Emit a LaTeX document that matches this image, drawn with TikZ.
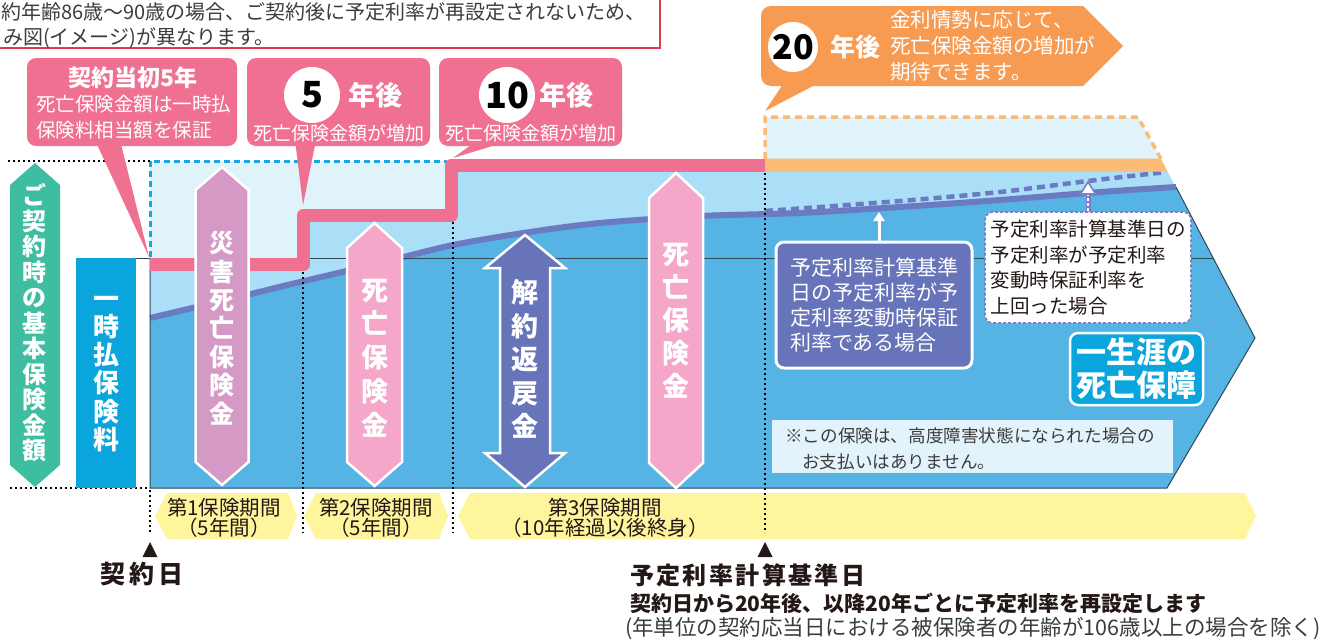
\documentclass[tikz,border=0pt]{standalone}
\usepackage{fontspec}
\setmainfont{Noto Sans CJK JP}
\usetikzlibrary{arrows.meta,calc}
\definecolor{pinkc}{HTML}{F07092}
\definecolor{lpink}{HTML}{F4A7C9}
\definecolor{mauve}{HTML}{D49AC5}
\definecolor{purp}{HTML}{6874B9}
\definecolor{greenc}{HTML}{3FBDA0}
\definecolor{bblue}{HTML}{0BA5DD}
\definecolor{mblue}{HTML}{55B4E4}
\definecolor{lblue}{HTML}{AADFF7}
\definecolor{vlight}{HTML}{E0F2FA}
\definecolor{orangec}{HTML}{F89B52}
\definecolor{lorange}{HTML}{FBBC77}
\definecolor{yel}{HTML}{FFF59D}
\definecolor{curvec}{HTML}{6B7BC1}
\definecolor{redc}{HTML}{E03C50}
\definecolor{darkt}{HTML}{231815}
\definecolor{grayt}{HTML}{3C3C3C}
\definecolor{linec}{HTML}{2F4858}
\definecolor{dpurp}{HTML}{7B80C4}
\definecolor{notec}{HTML}{E3F3FB}
\definecolor{dashblue}{HTML}{17A8E1}
\newcommand\fsz[2]{\fontsize{#1}{#2}\selectfont}
\tikzset{
  dotl/.style={black, line width=1.8, dash pattern=on 1.8pt off 3.2pt},
  wtxt/.style={text=white, inner sep=0},
  btxt/.style={text=darkt, inner sep=0},
  hexa/.style={draw=white, line width=2.5, line join=miter},
  vtxt/.style={text=white, inner sep=0, align=center},
  dig/.style={circle, fill=white, inner sep=0, minimum size=56, text=black},
  band/.style={fill=yel},
}
\begin{document}
\begin{tikzpicture}[x=1pt,y=-1pt]
\useasboundingbox (0,0) rectangle (1327,643);
\fill[white] (0,0) rectangle (1327,643);

% top note
\draw[redc, line width=1.3] (-5,-5) rectangle (660,48);
\node[anchor=west, text=grayt, inner sep=0, font=\fsz{20}{20}] (tn1) at (1,12) {約年齢86歳～90歳の場合、ご契約後に予定利率が再設定されないため、};
\node[anchor=west, text=grayt, inner sep=0, font=\fsz{20}{20}] (tn2) at (3,38) {み図(イメージ)が異なります。};

% very light regions
\fill[vlight] (150,161) -- (451.5,161) -- (451.5,215) -- (303.5,215) -- (303.5,264) -- (150,264) -- cycle;
\fill[vlight] (765,172) -- (765,117) -- (1138,117) -- (1168,172) -- cycle;
% light blue
\fill[lblue] (150,264) -- (303.5,264) -- (303.5,215) -- (451.5,215) -- (451.5,165) -- (1164,165) -- (1255,338) -- (1167,488) -- (150,488) -- cycle;
% main blue
\fill[mblue] plot[smooth] coordinates {(150,318) (230,299) (300,282) (380,263) (453,245) (530,232) (600,223) (700,216) (800,213) (900,207) (1000,200) (1100,192) (1176,187)} -- (1255,338) -- (1167,488) -- (150,488) -- cycle;
% curves
\draw[curvec, line width=4.5, dash pattern=on 8pt off 5pt] plot[smooth] coordinates {(765,211) (900,201) (1000,192) (1088,181) (1166,172)};
\draw[curvec, line width=6] plot[smooth] coordinates {(150,318) (230,299) (300,282) (380,263) (453,245) (530,232) (600,223) (700,216) (800,213) (900,207) (1000,200) (1100,192) (1176,187)};
% thin lines
\draw[linec, line width=1] (76,258) -- (1213,258);
\draw[linec, line width=1] (1176,187) -- (1255,338) -- (1167,488) -- (150,488) -- (150,258);

% dashed borders
\draw[dashblue, line width=3, dash pattern=on 6pt off 4pt] (150,257) -- (150,161) -- (447,161);
\draw[lorange, line width=3.5, dash pattern=on 7pt off 5pt] (765,159) -- (765,117) -- (1138,117) -- (1161,159);

% pink step and orange bar
\draw[pinkc, line width=13, line join=round] (150,264.5) -- (303.5,264.5) -- (303.5,215) -- (451.5,215) -- (451.5,165) -- (765,165);
\fill[lorange] (765,158.5) -- (1160.6,158.5) -- (1167.4,171.5) -- (765,171.5) -- cycle;

% bands
\fill[band] (155,516) -- (167,493) -- (288,493) -- (297,516) -- (288,539) -- (167,539) -- cycle;
\fill[band] (304,516) -- (316,493) -- (439,493) -- (448,516) -- (439,539) -- (316,539) -- cycle;
\fill[band] (458,516) -- (470,493) -- (1245,493) -- (1256,516) -- (1245,539) -- (470,539) -- cycle;
\node[btxt, align=center, font=\fsz{20.5}{20.5}] (p1) at (224,518) {第1保険期間\\（5年間）};
\node[btxt, align=center, font=\fsz{20.5}{20.5}] (p2) at (376,518) {第2保険期間\\（5年間）};
\node[btxt, align=center, font=\fsz{20.5}{20.5}] (p3) at (605,518) {第3保険期間\\（10年経過以後終身）};

% dotted lines
\draw[dotl] (8,161) -- (150,161);
\draw[dotl] (10,488) -- (150,488);
\draw[dotl] (150,490) -- (150,533);
\draw[dotl] (303,272) -- (303,533);
\draw[dotl] (453,222) -- (453,533);
\draw[dotl] (765,173) -- (765,533);

% left green hex and blue rect
\fill[greenc] (35,163) -- (60,185) -- (60,465) -- (35,487) -- (10,465) -- (10,185) -- cycle;
\node[vtxt, font=\bfseries\fsz{24}{25.5}] (g) at (35,323) {ご\\契\\約\\時\\の\\基\\本\\保\\険\\金\\額};
\fill[bblue] (76,258) rectangle (136,488);
\node[vtxt, font=\bfseries\fsz{26}{28.2}] (ip) at (106,374) {一\\時\\払\\保\\険\\料};

% hex arrows
\filldraw[hexa, fill=mauve] (222,167) -- (248.5,190) -- (248.5,462) -- (222,485) -- (195.5,462) -- (195.5,190) -- cycle;
\node[vtxt, font=\bfseries\fsz{25}{28.4}] (h1) at (222,328) {災\\害\\死\\亡\\保\\険\\金};
\filldraw[hexa, fill=lpink] (374.5,223) -- (402,248) -- (402,462) -- (374.5,486) -- (347,462) -- (347,248) -- cycle;
\node[vtxt, font=\bfseries\fsz{27}{33.8}] (h2) at (374.5,358) {死\\亡\\保\\険\\金};
\filldraw[hexa, fill=purp] (525,235) -- (565,268) -- (550,268) -- (550,453) -- (565,453) -- (525,487) -- (485,453) -- (500,453) -- (500,268) -- (485,268) -- cycle;
\node[vtxt, font=\bfseries\fsz{27}{33.4}] (h3) at (525,359) {解\\約\\返\\戻\\金};
\filldraw[hexa, fill=lpink] (676,173) -- (703,198) -- (703,463) -- (676,488) -- (649,463) -- (649,198) -- cycle;
\node[vtxt, font=\bfseries\fsz{27}{33}] (h4) at (676,321) {死\\亡\\保\\険\\金};

% right boxes
\node[draw=white, line width=3, fill=purp, rounded corners=8, minimum width=196, minimum height=126, inner sep=0, text=white, align=left, font=\fsz{21}{25.3}] (pb) at (874,305) {予定利率計算基準\\日の予定利率が予\\定利率変動時保証\\利率である場合};
\coordinate (t1) at (879,212);
\draw[white, line width=3, -{Triangle[width=11pt,length=9pt]}] (pb.north -| t1) -- (t1);
\node[draw=dpurp, dash pattern=on 3pt off 2pt, line width=1.6, fill=white, rounded corners=8, minimum width=206, minimum height=111, inner sep=0, text=darkt, align=left, font=\fsz{19.5}{25.7}] (wb) at (1088,267.5) {予定利率計算基準日の\\予定利率が予定利率\\変動時保証利率を\\上回った場合};
\coordinate (t2) at (1088,182);
\draw[dpurp, line width=5] (wb.north) -- ($(t2)+(0,10)$);
\draw[white, line width=2, dash pattern=on 3pt off 2pt] (wb.north) -- ($(t2)+(0,10)$);
\filldraw[fill=white, draw=dpurp, line width=1.6] (t2) -- ++(7.5,12) -- ++(-15,0) -- cycle;
\node[draw=white, line width=2.5, fill=bblue, rounded corners=8, minimum width=133, minimum height=72, inner sep=0, text=white, align=center, font=\bfseries\fsz{30}{33}] (ls) at (1136.5,369) {一生涯の\\死亡保障};
\fill[notec] (772,420) rectangle (1173,473);
\node[anchor=west, inner sep=0, text=grayt, align=left, font=\fsz{17.6}{26}] (nt) at (785,449) {※この保険は、高度障害状態になられた場合の\\\hspace*{17pt}お支払いはありません。};

% pink callouts
\fill[pinkc, rounded corners=9] (27,58) rectangle (237,146);
\fill[pinkc] (95,140) -- (120,140) -- (149,257) -- cycle;
\node[wtxt, font=\bfseries\fsz{23}{23}] (c1a) at (133,78) {契約当初5年};
\node[wtxt, anchor=west, font=\fsz{19.5}{19.5}] (c1b) at (36,104) {死亡保険金額は一時払};
\node[wtxt, anchor=west, font=\fsz{19.5}{19.5}] (c1c) at (36,130) {保険料相当額を保証};

\fill[pinkc, rounded corners=9] (247,58) rectangle (430,146);
\fill[pinkc] (295,140) -- (316,140) -- (303,205) -- cycle;
\node[dig, font=\bfseries\fsz{36}{36}] (n5) at (312,95) {5};
\node[wtxt, font=\bfseries\fsz{27}{27}] (y5) at (375,95) {年後};
\node[wtxt, font=\fsz{19}{19}] (c2) at (338.5,133) {死亡保険金額が増加};

\fill[pinkc, rounded corners=9] (439,58) rectangle (622,146);
\fill[pinkc] (478,140) -- (512,140) -- (453,158) -- cycle;
\node[dig, font=\bfseries\fsz{36}{36}] (n10) at (507,95) {10};
\node[wtxt, font=\bfseries\fsz{27}{27}] (y10) at (566,95) {年後};
\node[wtxt, font=\fsz{19}{19}] (c3) at (530.5,133) {死亡保険金額が増加};

% orange callout
\fill[orangec] (761,46) [rounded corners=10] -- (761,6) -- (900,6) [sharp corners] -- (1083,6) -- (1123,46) -- (1083,86) -- (900,86) [rounded corners=10] -- (761,86) -- cycle;
\fill[orangec] (783,84) -- (817,84) -- (765,111) -- cycle;
\node[dig, minimum size=50, font=\bfseries\fsz{34}{34}] (n20) at (793,47) {20};
\node[wtxt, font=\bfseries\fsz{25}{25}] (y20) at (855,47) {年後};
\node[wtxt, anchor=west, align=left, font=\fsz{20.5}{26}] (oc) at (890,46) {金利情勢に応じて、\\死亡保険金額の増加が\\期待できます。};

% bottom markers and labels
\fill[darkt] (150,542) -- (157.5,557) -- (142.5,557) -- cycle;
\fill[darkt] (765,542) -- (772.5,557) -- (757.5,557) -- cycle;
\node[btxt, font=\bfseries\fsz{25}{25}] (kd) at (142,574) {契\hspace{4pt}約\hspace{4pt}日};
\node[btxt, anchor=west, font=\bfseries\fsz{24}{24}\addfontfeature{LetterSpace=10}] (yd) at (630,575) {予定利率計算基準日};
\node[btxt, anchor=west, font=\bfseries\fsz{21}{21}] (yd2) at (630,603) {契約日から20年後、以降20年ごとに予定利率を再設定します};
\node[anchor=west, inner sep=0, text=grayt, font=\fsz{21.5}{21.5}] (yd3) at (625,629) {(年単位の契約応当日における被保険者の年齢が106歳以上の場合を除く)};
\end{tikzpicture}
\end{document}
